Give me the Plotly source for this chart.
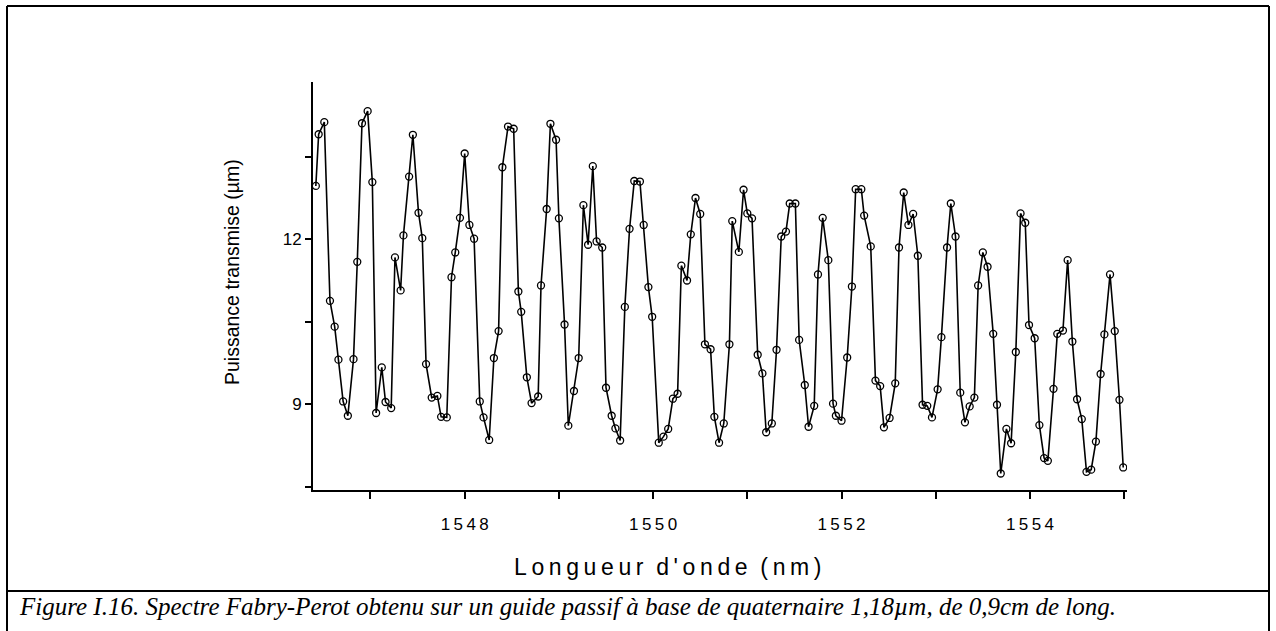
import plotly.graph_objects as go

# Fabry-Perot transmission spectrum (wavelength in nm, transmitted power)
wavelength = [
    1546.42, 1546.45, 1546.51, 1546.57, 1546.62, 1546.66, 1546.71, 1546.76, 1546.82, 1546.86,
    1546.91, 1546.97, 1547.02, 1547.06, 1547.12, 1547.16, 1547.22, 1547.26, 1547.32, 1547.35,
    1547.41, 1547.45, 1547.51, 1547.55, 1547.59, 1547.65, 1547.71, 1547.75, 1547.81, 1547.86,
    1547.90, 1547.95, 1548.00, 1548.05, 1548.10, 1548.16, 1548.20, 1548.26, 1548.31, 1548.36,
    1548.40, 1548.46, 1548.52, 1548.57, 1548.60, 1548.66, 1548.71, 1548.78, 1548.81, 1548.87,
    1548.91, 1548.97, 1549.00, 1549.06, 1549.10, 1549.16, 1549.21, 1549.26, 1549.31, 1549.36,
    1549.40, 1549.46, 1549.50, 1549.56, 1549.60, 1549.65, 1549.70, 1549.75, 1549.80, 1549.86,
    1549.90, 1549.95, 1549.99, 1550.06, 1550.11, 1550.16, 1550.21, 1550.26, 1550.30, 1550.36,
    1550.40, 1550.45, 1550.50, 1550.55, 1550.61, 1550.65, 1550.70, 1550.75, 1550.81, 1550.84,
    1550.91, 1550.96, 1551.00, 1551.05, 1551.11, 1551.16, 1551.20, 1551.26, 1551.31, 1551.36,
    1551.41, 1551.45, 1551.51, 1551.55, 1551.61, 1551.65, 1551.71, 1551.75, 1551.80, 1551.86,
    1551.91, 1551.94, 1552.00, 1552.06, 1552.11, 1552.15, 1552.21, 1552.24, 1552.31, 1552.36,
    1552.41, 1552.45, 1552.51, 1552.57, 1552.61, 1552.66, 1552.71, 1552.76, 1552.81, 1552.86,
    1552.91, 1552.96, 1553.02, 1553.06, 1553.12, 1553.16, 1553.21, 1553.26, 1553.31, 1553.36,
    1553.41, 1553.45, 1553.50, 1553.55, 1553.61, 1553.65, 1553.69, 1553.75, 1553.80, 1553.85,
    1553.90, 1553.95, 1553.99, 1554.05, 1554.10, 1554.15, 1554.19, 1554.25, 1554.29, 1554.35,
    1554.40, 1554.45, 1554.50, 1554.55, 1554.60, 1554.65, 1554.70, 1554.75, 1554.79, 1554.85,
    1554.90, 1554.95, 1554.99,
]

power = [
    12.97, 13.91, 14.13, 10.88, 10.41, 9.81, 9.05, 8.79, 9.82, 11.59,
    14.11, 14.33, 13.04, 8.84, 9.67, 9.04, 8.93, 11.67, 11.07, 12.07,
    13.14, 13.90, 12.48, 12.02, 9.73, 9.12, 9.15, 8.77, 8.76, 11.31,
    11.76, 12.39, 13.56, 12.26, 12.01, 9.05, 8.76, 8.35, 9.84, 10.33,
    13.31, 14.05, 14.01, 11.05, 10.68, 9.49, 9.02, 9.14, 11.16, 12.55,
    14.10, 13.81, 12.38, 10.45, 8.61, 9.24, 9.84, 12.62, 11.90, 13.33,
    11.96, 11.85, 9.30, 8.79, 8.56, 8.34, 10.77, 12.19, 13.06, 13.05,
    12.26, 11.13, 10.59, 8.30, 8.41, 8.55, 9.10, 9.19, 11.52, 11.25,
    12.09, 12.75, 12.46, 10.09, 10.00, 8.77, 8.30, 8.65, 10.09, 12.33,
    11.77, 12.90, 12.47, 12.38, 9.90, 9.56, 8.49, 8.65, 9.99, 12.05,
    12.14, 12.65, 12.65, 10.17, 9.35, 8.59, 8.97, 11.36, 12.39, 11.62,
    9.01, 8.79, 8.70, 9.85, 11.14, 12.91, 12.91, 12.43, 11.87, 9.43,
    9.33, 8.58, 8.75, 9.38, 11.85, 12.85, 12.26, 12.46, 11.70, 8.99,
    8.97, 8.76, 9.27, 10.22, 11.85, 12.65, 12.05, 9.21, 8.67, 8.96,
    9.12, 11.16, 11.76, 11.50, 10.28, 8.99, 7.74, 8.55, 8.29, 9.95,
    12.47, 12.30, 10.44, 10.20, 8.62, 8.02, 7.97, 9.28, 10.28, 10.34,
    11.62, 10.14, 9.09, 8.73, 7.77, 7.81, 8.32, 9.55, 10.27, 11.36,
    10.33, 9.08, 7.85,
]

x_ticks = [1547, 1548, 1549, 1550, 1551, 1552, 1553, 1554, 1555]
x_tick_labels = ["", "1548", "", "1550", "", "1552", "", "1554", ""]
y_ticks = [7.5, 9, 10.5, 12, 13.5]
y_tick_labels = ["", "9", "", "12", ""]

x_title = "Longueur d'onde (nm)"
y_title = "Puissance transmise (µm)"
caption = ("Figure I.16. Spectre Fabry-Perot obtenu sur un guide passif à base de "
           "quaternaire 1,18µm, de 0,9cm de long.")

THIN = "\u2009"


def spaced(text):
    """Open up the letter spacing with thin spaces."""
    return THIN.join(text)


W, H = 1276, 631
L, R, T, B = 313, 149, 82, 141
pw, ph = W - L - R, H - T - B


def px(x):
    return (x - L) / pw


def py(y):
    return (H - B - y) / ph


fig = go.Figure()
fig.add_trace(go.Scatter(
    x=wavelength, y=power, mode="lines+markers",
    line=dict(color="black", width=1.6),
    marker=dict(symbol="circle-open", size=7, color="black", line=dict(width=1.3)),
    showlegend=False,
))

sans = "Liberation Sans, Arial, sans-serif"

fig.update_layout(
    width=W, height=H,
    margin=dict(l=L, r=R, t=T, b=B),
    paper_bgcolor="white", plot_bgcolor="white",
    font=dict(family=sans, size=16, color="black"),
    xaxis=dict(
        range=[1546.39, 1555.03], showgrid=False, zeroline=False,
        showline=True, linecolor="black", linewidth=2,
        ticks="outside", ticklen=7, tickwidth=1.5, tickcolor="black",
        tickvals=x_ticks, ticktext=[spaced(t) for t in x_tick_labels],
        tickfont=dict(size=17),
        ticklabelstandoff=11,
    ),
    yaxis=dict(
        range=[7.44, 14.86], showgrid=False, zeroline=False,
        showline=True, linecolor="black", linewidth=2,
        ticks="outside", ticklen=6, tickwidth=1.5, tickcolor="black",
        tickvals=y_ticks, ticktext=y_tick_labels,
        tickfont=dict(size=17),
    ),
)

# axis titles
fig.add_annotation(
    xref="paper", yref="paper", x=px(667), y=py(567),
    xanchor="center", yanchor="middle", showarrow=False,
    text=spaced(x_title).replace(THIN + " " + THIN, "  "),
    font=dict(family=sans, size=23),
)
fig.add_annotation(
    xref="paper", yref="paper", x=px(232), y=py(272),
    xanchor="center", yanchor="middle", showarrow=False, textangle=-90,
    text=y_title, font=dict(family=sans, size=19.5),
)

# outer frame and caption separator
frame = dict(color="black", width=2)
fig.add_shape(type="line", xref="paper", yref="paper",
              x0=px(7), x1=px(1269), y0=py(6), y1=py(6), line=frame)
fig.add_shape(type="line", xref="paper", yref="paper",
              x0=px(7), x1=px(7), y0=py(6), y1=py(631), line=frame)
fig.add_shape(type="line", xref="paper", yref="paper",
              x0=px(1269), x1=px(1269), y0=py(6), y1=py(631), line=frame)
fig.add_shape(type="line", xref="paper", yref="paper",
              x0=px(7), x1=px(1269), y0=py(591), y1=py(591), line=frame)

fig.add_annotation(
    xref="paper", yref="paper", x=px(17), y=py(606),
    xanchor="left", yanchor="middle", showarrow=False,
    text="<i>" + caption + "</i>",
    font=dict(family="Liberation Serif, Times New Roman, serif", size=25, color="black"),
)

fig.write_html("out.html")
